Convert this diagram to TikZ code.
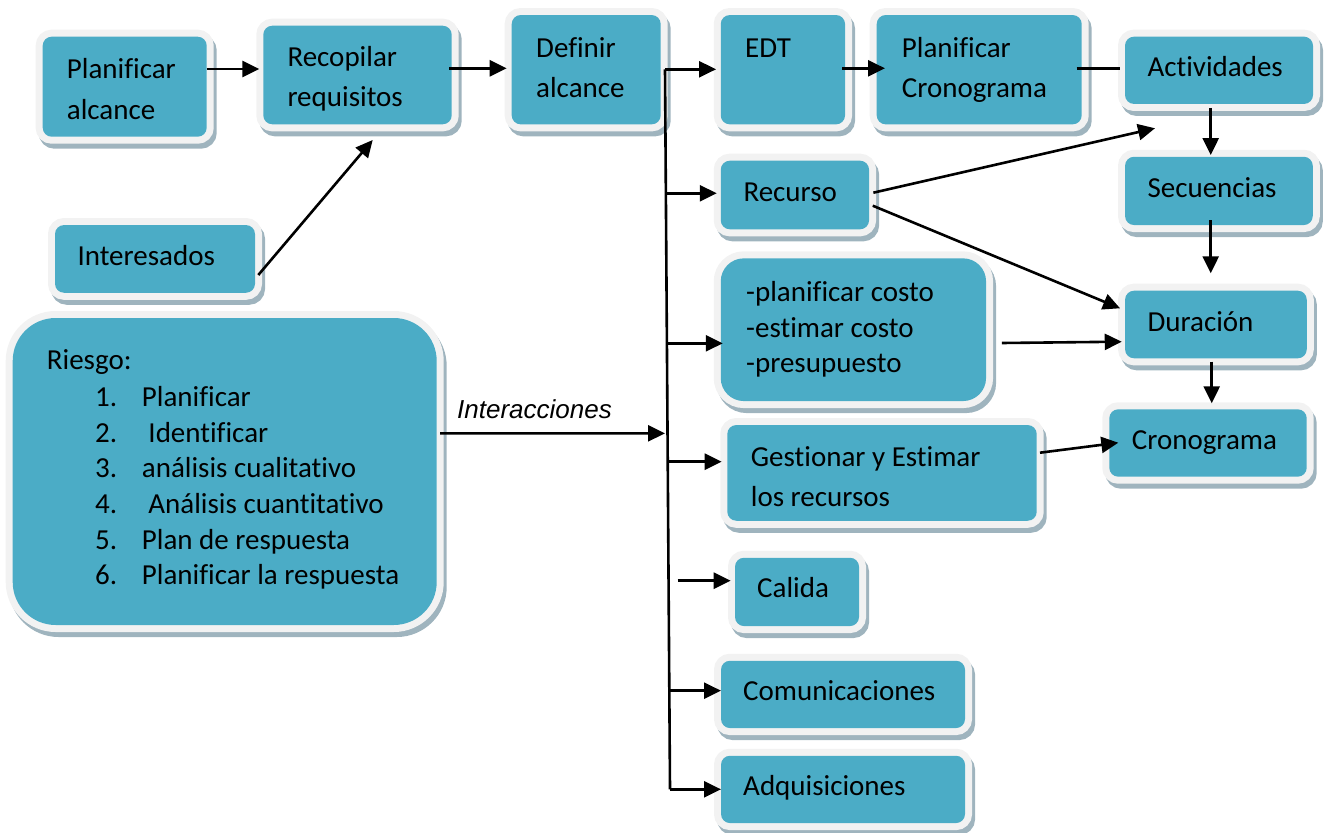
\documentclass[tikz,border=0pt]{standalone}
\usepackage{fontspec}
\setmainfont{Carlito}[Ligatures=NoCommon]
\newfontfamily\labelsans{Liberation Sans}
\usetikzlibrary{arrows.meta,calc}
\definecolor{boxteal}{HTML}{4BACC6}
\definecolor{framecol}{HTML}{F2F2F2}
\definecolor{shadowcol}{HTML}{9FB4BE}
% left-aligned block of lines whose baseline is that of the first line
\newcommand\rows[1]{\begin{tabular}[t]{@{}l@{}}#1\end{tabular}}
\begin{document}
\begin{tikzpicture}[x=1pt,y=-1pt,
  box/.style={rectangle, rounded corners=9pt, fill=boxteal, inner sep=0pt, outer sep=0pt,
    preaction={draw=shadowcol, fill=shadowcol, line width=14pt,
      transform canvas={xshift=3pt,yshift=-5pt}},
    preaction={draw=framecol, line width=14pt}},
  lbl/.style={anchor=base west, inner sep=0pt, font=\fontsize{29pt}{40pt}\selectfont},
  link/.style={line width=2.6pt},
  arr/.style={link, -{Triangle[length=17pt,width=16pt]}}]
\useasboundingbox (0,0) rectangle (1324,832);

% ---- boxes ----
\node[box, minimum width=164pt, minimum height=100pt]   (pa)   at (124.7,86.7)  {};
\node[box, minimum width=188.4pt, minimum height=98.6pt] (rr)  at (357.5,75)    {};
\node[box, minimum width=149pt, minimum height=109.3pt] (da)   at (586.2,69.7)  {};
\node[box, minimum width=124.3pt, minimum height=109.3pt] (edt) at (782.9,69.7) {};
\node[box, minimum width=205pt, minimum height=109.3pt] (pc)   at (979.2,69.7)  {};
\node[box, minimum width=188pt, minimum height=67.3pt]  (act)  at (1219,70.3)   {};
\node[box, minimum width=187.7pt, minimum height=68.3pt] (sec) at (1218.9,190.9) {};
\node[box, minimum width=181.7pt, minimum height=67.6pt] (dur) at (1215.9,324.5) {};
\node[box, minimum width=197.4pt, minimum height=67.4pt] (cro) at (1208,443)    {};
\node[box, minimum width=148.3pt, minimum height=68.6pt] (rec) at (794.9,195)   {};
\node[box, rounded corners=23pt, minimum width=265.3pt, minimum height=142.7pt] (cost) at (853.4,329.7) {};
\node[box, minimum width=309.4pt, minimum height=95.7pt] (gest) at (882,472.9)  {};
\node[box, minimum width=124pt, minimum height=68.3pt]  (cal)  at (797,591.9)   {};
\node[box, minimum width=244pt, minimum height=67.3pt]  (com)  at (843,694.4)   {};
\node[box, minimum width=244pt, minimum height=67.3pt]  (adq)  at (843,789.4)   {};
\node[box, minimum width=200pt, minimum height=67.7pt]  (int)  at (155,258.9)   {};
\node[box, rounded corners=43pt, minimum width=424pt, minimum height=307pt] (rie) at (224.7,471.5) {};

% ---- texts ----
\node[lbl, font=\fontsize{29pt}{41pt}\selectfont] (tpa) at (66.7,79) {\rows{Planificar\\alcance}};
\node[lbl] (trr)  at (287.3,66.5)  {\rows{Recopilar\\requisitos}};
\node[lbl] (tda)  at (536,57.5)    {\rows{Definir\\alcance}};
\node[lbl] (tedt) at (745,57.5)    {EDT};
\node[lbl] (tpc)  at (901.7,57.5)  {\rows{Planificar\\Cronograma}};
\node[lbl] (tact) at (1147.3,76.5) {Actividades};
\node[lbl] (tsec) at (1147.3,197.5) {Secuencias};
\node[lbl] (tdur) at (1147.3,331.5) {Duración};
\node[lbl] (tcro) at (1131.7,449) {Cronograma};
\node[lbl] (trec) at (743.3,201.5) {Recurso};
\node[lbl, font=\fontsize{29pt}{35.5pt}\selectfont] (tcost) at (746,301.5)
  {\rows{-planificar costo\\-estimar costo\\-presupuesto}};
\node[lbl, font=\fontsize{29pt}{40.3pt}\selectfont] (tgest) at (750.7,466.5)
  {\rows{Gestionar y Estimar\\los recursos}};
\node[lbl] (tcal) at (757,597.5)   {Calida};
\node[lbl] (tcom) at (743,700.5)   {Comunicaciones};
\node[lbl] (tadq) at (743,795.5)   {Adquisiciones};
\node[lbl] (tint) at (77.3,265)    {Interesados};
\node[lbl] (trie) at (46.7,369.5)  {Riesgo:};
\node[lbl, font=\fontsize{29pt}{35.7pt}\selectfont] (tlist) at (95,406.3)
  {\begin{tabular}[t]{@{}p{46.7pt}@{}l@{}}
    1. & Planificar\\
    2. & \ Identificar\\
    3. & análisis cualitativo\\
    4. & \ Análisis cuantitativo\\
    5. & Plan de respuesta\\
    6. & Planificar la respuesta
  \end{tabular}};
\node[anchor=base west, inner sep=0pt, font=\labelsans\itshape\fontsize{26pt}{30pt}\selectfont]
  (tinter) at (457,418) {Interacciones};

% ---- top chain ----
\coordinate (c1) at ([yshift=17.7pt]pa.east);
\draw[arr, shorten >=4pt] (c1) -- (c1 -| rr.west);
\coordinate (c2) at ([yshift=6.7pt]rr.east);
\draw[arr, shorten <=-2.3pt, shorten >=5pt] (c2) -- (c2 -| da.west);
\draw[arr] ([xshift=3.3pt,yshift=-16.1pt]int.east) -- ([xshift=15.2pt,yshift=-15.7pt]rr.south);
\coordinate (c3) at ([yshift=1.4pt]edt.east);
\draw[arr, shorten <=-3pt, shorten >=-8.3pt] (c3) -- (c3 -| pc.west);
\coordinate (c4) at ([yshift=1pt]pc.east);
\draw[link, shorten <=-5pt, shorten >=5pt] (c4) -- (c4 -| act.west);

% ---- vertical bus from "Definir alcance" ----
\coordinate (bt) at ([xshift=4.3pt,yshift=0.4pt]da.east);
\coordinate (bb) at (670,789.3);
\draw[link] (bt) -- (bb);
\coordinate (bRec)  at ($(bt)!0.1722!(bb)$);
\coordinate (bCost) at ($(bt)!0.3806!(bb)$);
\coordinate (bInt)  at ($(bt)!0.5056!(bb)$);
\coordinate (bGest) at ($(bt)!0.5450!(bb)$);
\coordinate (bCom)  at ($(bt)!0.8630!(bb)$);
\draw[arr, shorten >=4.7pt] (bt) -- (bt -| edt.west);
\draw[arr, shorten >=4pt]   (bRec) -- (bRec -| rec.west);
\draw[arr, shorten >=-2pt]  (bCost) -- (bCost -| cost.west);
\draw[arr, shorten >=5.6pt] (bGest) -- (bGest -| gest.west);
\draw[arr] (bCom) -- (bCom -| com.west);
\draw[arr] (bb) -- (bb -| adq.west);
\coordinate (calsrc) at (677.7,580.7);
\draw[arr, shorten >=4.3pt] (calsrc) -- (calsrc -| cal.west);

% ---- risk interactions ----
\coordinate (intsrc) at ([xshift=3.3pt,yshift=38.2pt]rie.east);
\draw[arr, shorten >=2.5pt] (intsrc) -- (bInt);

% ---- schedule column ----
\coordinate (c5) at ([xshift=-8.3pt]act.south);
\draw[arr, shorten <=4pt, shorten >=1.7pt] (c5) -- (c5 |- sec.north);
\coordinate (c6) at ([xshift=-8.2pt]sec.south);
\draw[arr, shorten <=-5pt, shorten >=17.4pt] (c6) -- (c6 |- dur.north);
\coordinate (c7) at ([xshift=-4.2pt]dur.south);
\draw[arr, shorten <=3.4pt, shorten >=6pt] (c7) -- (c7 |- cro.north);

\draw[arr] ([xshift=4.3pt,yshift=2.3pt]rec.east) -- ([xshift=30pt,yshift=-24.3pt]act.south west);
\draw[arr] ([xshift=3.7pt,yshift=-10.7pt]rec.east) -- ([xshift=-5pt,yshift=16.2pt]dur.west);
\draw[arr] ([xshift=15.7pt,yshift=-13.3pt]cost.east) -- ([xshift=-3.3pt,yshift=-17.2pt]dur.west);
\draw[arr] ([xshift=3.3pt,yshift=20.2pt]gest.east) -- ([xshift=9pt,yshift=0.3pt]cro.west);
\end{tikzpicture}
\end{document}
